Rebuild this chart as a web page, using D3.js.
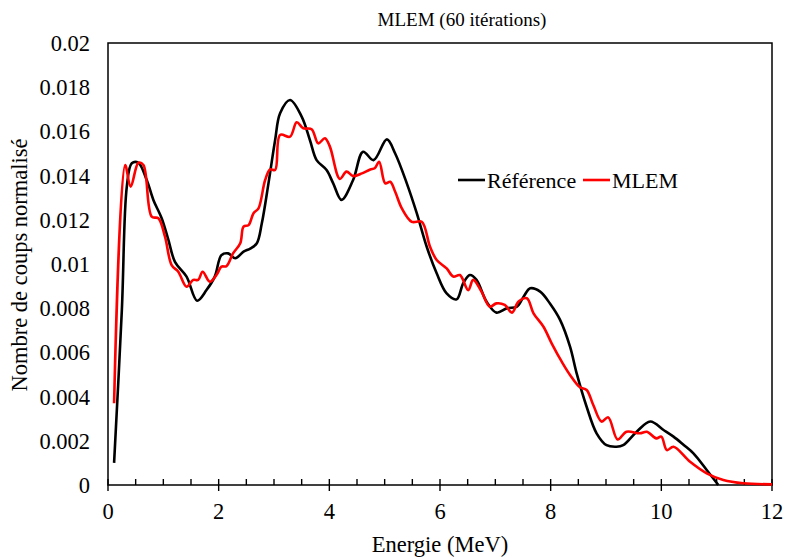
<!DOCTYPE html>
<html>
<head>
<meta charset="utf-8">
<script src="https://cdn.jsdelivr.net/npm/d3@7"></script>
<style>
  html, body { margin: 0; padding: 0; background: #fff; }
  svg text { font-family: "Times New Roman", "Liberation Serif", Times, "DejaVu Serif", serif; }
</style>
</head>
<body>
<svg id="chart" width="786" height="557" style="display:block"></svg>
<script>
// Energy (MeV) and normalized counts
const refEnergy = [0.11, 0.25, 0.34, 0.43, 0.55, 0.70, 0.82, 0.97, 1.09, 1.21, 1.42, 1.61, 1.78, 1.93, 2.05, 2.17, 2.30, 2.45, 2.57, 2.69, 2.78, 2.90, 3.02, 3.11, 3.29, 3.50, 3.65, 3.77, 3.95, 4.07, 4.22, 4.43, 4.61, 4.80, 5.04, 5.19, 5.40, 5.58, 5.76, 5.94, 6.12, 6.30, 6.42, 6.54, 6.66, 6.84, 7.02, 7.21, 7.39, 7.51, 7.63, 7.81, 7.99, 8.17, 8.35, 8.47, 8.65, 8.83, 9.01, 9.19, 9.31, 9.55, 9.80, 10.04, 10.22, 10.40, 10.58, 10.82, 11.03];
const refValues = [0.0010, 0.0079, 0.0135, 0.01456, 0.01458, 0.0138, 0.0129, 0.01207, 0.0111, 0.0101, 0.00943, 0.00834, 0.00882, 0.00943, 0.0104, 0.01048, 0.01026, 0.01056, 0.0107, 0.01094, 0.01184, 0.01365, 0.0156, 0.01682, 0.01742, 0.01667, 0.0156, 0.0147, 0.01425, 0.01365, 0.0129, 0.0138, 0.01508, 0.0147, 0.01564, 0.0150, 0.01365, 0.0123, 0.01078, 0.00958, 0.00867, 0.0084, 0.00913, 0.0095, 0.00928, 0.0083, 0.0078, 0.0080, 0.00807, 0.00852, 0.0089, 0.00875, 0.0082, 0.00747, 0.00626, 0.00505, 0.00354, 0.00234, 0.0018, 0.00173, 0.0018, 0.0024, 0.00287, 0.00249, 0.00219, 0.00182, 0.00143, 0.00068, 0.0];

const mlemEnergy = [0.11, 0.31, 0.41, 0.55, 0.64, 0.79, 0.91, 1.03, 1.15, 1.27, 1.42, 1.54, 1.63, 1.71, 1.84, 1.96, 2.05, 2.14, 2.26, 2.39, 2.45, 2.54, 2.63, 2.72, 2.84, 2.93, 3.02, 3.11, 3.29, 3.41, 3.53, 3.68, 3.80, 3.92, 4.01, 4.19, 4.31, 4.43, 4.59, 4.74, 4.82, 4.90, 5.01, 5.10, 5.19, 5.31, 5.49, 5.67, 5.82, 5.94, 6.12, 6.24, 6.36, 6.51, 6.60, 6.75, 6.90, 7.02, 7.17, 7.30, 7.42, 7.57, 7.69, 7.87, 8.02, 8.20, 8.35, 8.53, 8.65, 8.77, 8.92, 9.04, 9.21, 9.37, 9.61, 9.74, 9.91, 10.0, 10.10, 10.22, 10.52, 10.82, 11.12, 11.48, 12.0];
const mlemValues = [0.0037, 0.01448, 0.0135, 0.01458, 0.01448, 0.01214, 0.01207, 0.01124, 0.00995, 0.00965, 0.00897, 0.00928, 0.00928, 0.00965, 0.0092, 0.0095, 0.00988, 0.0099, 0.01048, 0.01094, 0.01169, 0.01176, 0.0123, 0.01252, 0.0138, 0.01428, 0.01425, 0.01584, 0.01576, 0.01641, 0.01614, 0.0161, 0.01546, 0.01569, 0.01531, 0.01385, 0.01418, 0.01398, 0.0141, 0.01428, 0.01433, 0.01463, 0.01365, 0.01372, 0.01327, 0.01252, 0.01191, 0.01191, 0.01078, 0.01018, 0.0098, 0.00943, 0.0095, 0.00882, 0.00928, 0.00875, 0.00807, 0.00822, 0.00815, 0.0078, 0.0083, 0.00845, 0.00777, 0.00716, 0.00640, 0.00558, 0.00498, 0.00442, 0.0043, 0.00362, 0.00287, 0.00306, 0.00206, 0.00241, 0.00234, 0.00241, 0.00211, 0.00219, 0.00158, 0.00173, 0.00105, 0.00053, 0.00023, 0.00008, 0.00003];

const xTicks = [0, 2, 4, 6, 8, 10, 12];
const xMinorTicks = [0.5, 1, 1.5, 2.5, 3, 3.5, 4.5, 5, 5.5, 6.5, 7, 7.5, 8.5, 9, 9.5, 10.5, 11, 11.5];
const yTicks = [0, 0.002, 0.004, 0.006, 0.008, 0.01, 0.012, 0.014, 0.016, 0.018, 0.02];
const seriesNames = ["Référence", "MLEM"];
const seriesColors = ["#000000", "#ff0000"];

(function () {
  const svg = d3.select("#chart");
  const mLeft = 108, mRight = 772, mTop = 43, mBottom = 485;
  const fs = 22.5;

  const x = d3.scaleLinear().domain([0, 12]).range([mLeft, mRight]);
  const y = d3.scaleLinear().domain([0, 0.02]).range([mBottom, mTop]);

  // Title
  svg.append("text").attr("x", 462).attr("y", 26).attr("text-anchor", "middle")
    .attr("font-size", 19).attr("fill", "#000").text("MLEM (60 itérations)");

  // Frame
  svg.append("rect").attr("x", mLeft).attr("y", mTop).attr("width", mRight - mLeft).attr("height", mBottom - mTop)
    .attr("fill", "none").attr("stroke", "#000").attr("stroke-width", 1.5);

  // X axis ticks (minor inside, major crossing)
  const minorG = svg.append("g");
  minorG.selectAll("line").data(xMinorTicks).join("line")
    .attr("x1", d => x(d)).attr("x2", d => x(d)).attr("y1", mBottom).attr("y2", mBottom - 6)
    .attr("stroke", "#000").attr("stroke-width", 1.4);
  const majorG = svg.append("g");
  majorG.selectAll("line").data(xTicks).join("line")
    .attr("x1", d => x(d)).attr("x2", d => x(d)).attr("y1", mBottom - 6).attr("y2", mBottom + 6)
    .attr("stroke", "#000").attr("stroke-width", 1.4);
  svg.append("g").selectAll("text").data(xTicks).join("text")
    .attr("x", d => x(d)).attr("y", 519).attr("text-anchor", "middle")
    .attr("font-size", fs).attr("fill", "#000").text(d => d);

  // Y tick labels
  svg.append("g").selectAll("text").data(yTicks).join("text")
    .attr("x", 90).attr("y", d => y(d) + 8).attr("text-anchor", "end")
    .attr("font-size", fs).attr("fill", "#000")
    .text(d => d === 0 ? "0" : String(+d.toFixed(3)));

  // Axis titles
  svg.append("text").attr("x", 440).attr("y", 552).attr("text-anchor", "middle")
    .attr("font-size", fs).attr("fill", "#000").text("Energie (MeV)");
  svg.append("text").attr("transform", "translate(27,265) rotate(-90)").attr("text-anchor", "middle")
    .attr("font-size", fs).attr("fill", "#000").text("Nombre de coups normalisé");

  // Lines
  const line = d3.line().x(d => x(d[0])).y(d => y(d[1])).curve(d3.curveCatmullRom.alpha(0.5));
  const refData = refEnergy.map((e, i) => [e, refValues[i]]);
  const mlemData = mlemEnergy.map((e, i) => [e, mlemValues[i]]);

  svg.append("path").datum(refData).attr("d", line).attr("fill", "none")
    .attr("stroke", seriesColors[0]).attr("stroke-width", 2.6).attr("stroke-linejoin", "round");
  svg.append("path").datum(mlemData).attr("d", line).attr("fill", "none")
    .attr("stroke", seriesColors[1]).attr("stroke-width", 2.6).attr("stroke-linejoin", "round");

  // Legend
  const legend = svg.append("g");
  const legendItems = [
    { name: seriesNames[0], color: seriesColors[0], lx: 458 },
    { name: seriesNames[1], color: seriesColors[1], lx: 583 }
  ];
  legendItems.forEach(it => {
    legend.append("line").attr("x1", it.lx).attr("x2", it.lx + 27).attr("y1", 180).attr("y2", 180)
      .attr("stroke", it.color).attr("stroke-width", 2.6);
    legend.append("text").attr("x", it.lx + 29).attr("y", 188)
      .attr("font-size", 22).attr("fill", "#000").text(it.name);
  });
})();
</script>
</body>
</html>
